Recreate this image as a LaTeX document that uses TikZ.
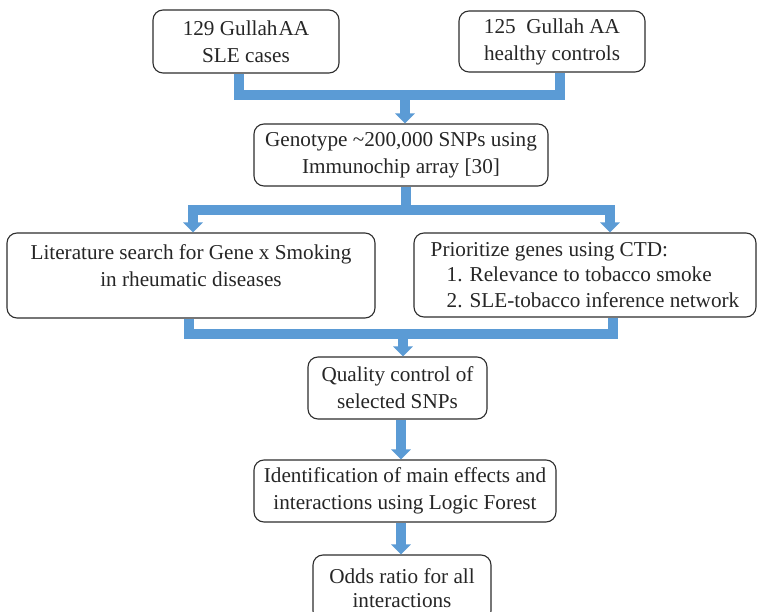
\documentclass[tikz,border=0pt]{standalone}
\usepackage{fontspec}
\setmainfont{Liberation Serif}
\usetikzlibrary{arrows.meta}
\definecolor{flowblue}{HTML}{5B9BD5}
\definecolor{boxline}{HTML}{2E2E2E}
\definecolor{txtcol}{HTML}{262626}
\begin{document}
\begin{tikzpicture}[x=1pt,y=-1pt,
  box/.style={draw=boxline, line width=1.1pt, rounded corners=10pt, fill=white,
    text=txtcol, align=center, inner sep=2pt, font=\fontsize{21.2}{27}\selectfont},
  conn/.style={draw=flowblue, line width=9.5pt, line join=miter},
  arr/.style={-{Triangle[width=19pt,length=10pt]}},
  arrb/.style={{Triangle[width=19pt,length=10pt]}-{Triangle[width=19pt,length=10pt]}}
]
\clip (0,0) rectangle (758,612);
\fill[white] (0,0) rectangle (758,612);

% boxes
\node[box, minimum width=186pt, minimum height=63pt] (a) at (246,41.5)
  {129 Gullah\kern1pt AA\\SLE cases};
\node[box, minimum width=186pt, minimum height=61pt] (b) at (552,41.5)
  {125\ \ Gullah AA\\healthy controls};
\node[box, minimum width=294pt, minimum height=62pt] (g) at (401,155)
  {Genotype \textasciitilde200,000 SNPs using\\Immunochip array [30]};
\node[box, minimum width=368pt, minimum height=85pt] (lit) at (191,275.5) {};
\node[text=txtcol, align=center, font=\fontsize{21.2}{27}\selectfont] (littext) at (191,265.5)
  {Literature search for Gene x Smoking\\in rheumatic diseases};
\node[box, minimum width=342pt, minimum height=84pt, align=left,
  font=\fontsize{21.2}{25.5}\selectfont] (prio) at (585,275)
  {Prioritize genes using CTD:\\\hspace*{16pt}1. Relevance to tobacco smoke\\\hspace*{16pt}2. SLE-tobacco inference network};
\node[box, minimum width=179pt, minimum height=62pt] (qc) at (397.5,388)
  {Quality control of\\selected SNPs};
\node[box, minimum width=302pt, minimum height=62pt] (id) at (405,491)
  {Identification of main effects and\\interactions using Logic Forest};
\node[box, minimum width=178pt, minimum height=66pt, font=\fontsize{21.2}{24.5}\selectfont] (odds) at (402,588)
  {Odds ratio for all\\interactions};

% junction coordinates
\coordinate (ja) at (239,95);
\coordinate (jb) at (560,95);
\coordinate (m1) at (405,95);
\coordinate (s) at (406,210);
\coordinate (sl) at (193,210);
\coordinate (sr) at (610,210);
\coordinate (jl) at (189,334);
\coordinate (jr) at (613,334);
\coordinate (m3) at (403,334);

% connectors
\draw[conn] (a.south -| ja) -- (ja) -- (jb) -- (b.south -| jb);
\draw[conn,arr] (m1) -- (g.north -| m1);
\draw[conn] (g.south -| s) -- (s);
\draw[conn,arrb] (lit.north -| sl) -- (sl) -- (sr) -- (prio.north -| sr);
\draw[conn] (lit.south -| jl) -- (jl) -- (jr) -- (prio.south -| jr);
\draw[conn,arr] (m3) -- (qc.north -| m3);
\draw[conn,arr] (qc.south -| 401,0) -- (id.north -| 401,0);
\draw[conn,arr] (id.south -| 401,0) -- (odds.north -| 401,0);
\end{tikzpicture}
\end{document}
